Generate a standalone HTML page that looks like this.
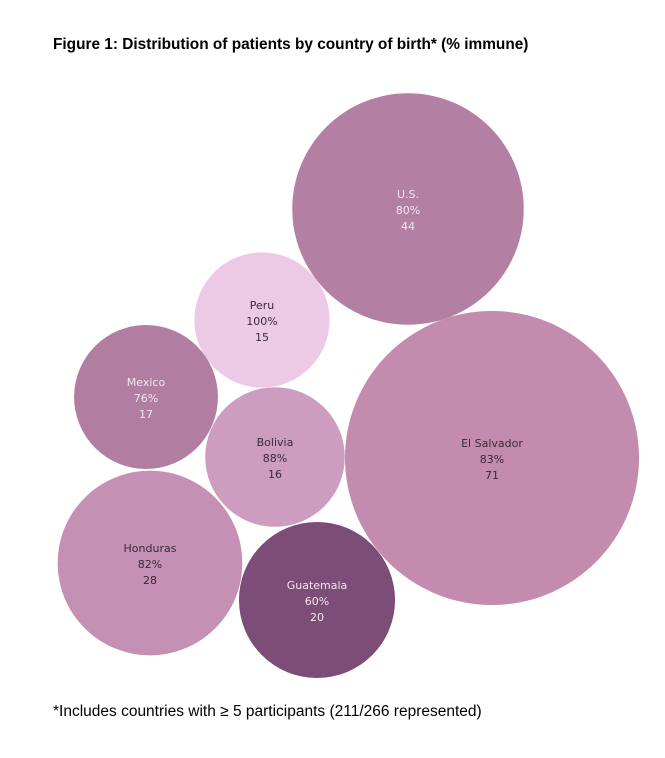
<!DOCTYPE html>
<html><head><meta charset="utf-8"><style>
body{margin:0;background:#fff;width:665px;height:758px;overflow:hidden;font-family:"Liberation Sans",sans-serif}
#title{position:absolute;left:53px;top:36px;font-size:15.4px;font-weight:bold;color:#000}
#note{position:absolute;left:53px;top:703px;font-size:15.5px;color:#000}
svg{position:absolute;left:0;top:0}
</style></head><body>
<div id="title">Figure 1: Distribution of patients by country of birth* (% immune)</div>
<svg id="chart" width="665" height="758"></svg>
<div id="note">*Includes countries with ≥ 5 participants (211/266 represented)</div>
<script>
const countries=["U.S.","El Salvador","Peru","Mexico","Bolivia","Honduras","Guatemala"];
const immune=[80,83,100,76,88,82,60];
const counts=[44,71,15,17,16,28,20];
const cx=[408,492,262,146,275,150,317];
const cy=[209,458,320,397,457,563,600];
const fills=["#b37fa2","#c38cae","#ecc9e4","#b17ea1","#cc9dbf","#c490b3","#7c4d76"];
const textCol=["#f3e6ef","#3a2a36","#3a2a36","#f3e6ef","#3a2a36","#3a2a36","#f3e6ef"];
const rScale=n=>17.45*Math.sqrt(n);
const svg=document.getElementById('chart');
const NS="http://www.w3.org/2000/svg";
countries.forEach((c,i)=>{
  const g=document.createElementNS(NS,'g');
  
  
  const ci=document.createElementNS(NS,'circle');
  ci.setAttribute('cx',cx[i]);ci.setAttribute('cy',cy[i]);ci.setAttribute('r',rScale(counts[i]));
  ci.setAttribute('fill',fills[i]);
  g.appendChild(ci);
  [c,immune[i]+'%',String(counts[i])].forEach((t,k)=>{
    const tx=document.createElementNS(NS,'text');
    tx.setAttribute('x',cx[i]);tx.setAttribute('y',cy[i]-11+k*16);
    tx.setAttribute('text-anchor','middle');tx.setAttribute('font-size','11');
    tx.setAttribute('fill',textCol[i]);tx.setAttribute('font-family','"DejaVu Sans",sans-serif');
    tx.textContent=t;g.appendChild(tx);
  });
  svg.appendChild(g);
});
</script>
</body></html>
